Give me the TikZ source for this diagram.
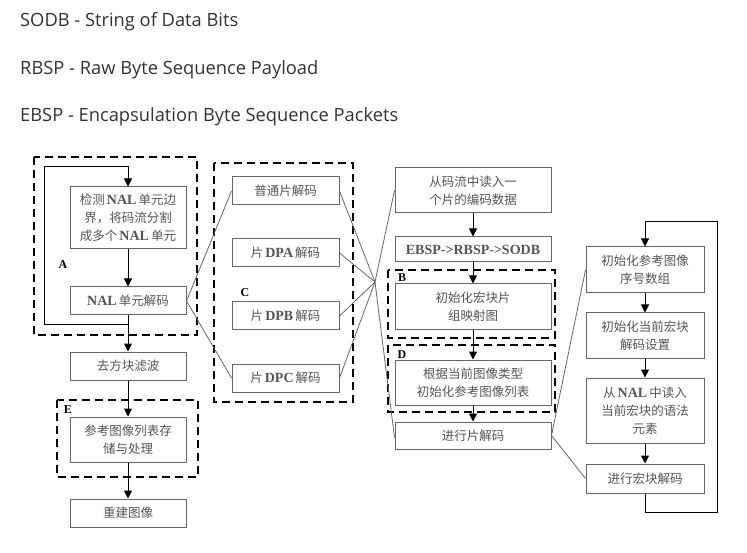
\documentclass[tikz,border=0pt]{standalone}
\usepackage{fontspec}
\setmainfont{Liberation Serif}
\newfontfamily\cjk{Noto Sans CJK SC}
\newfontfamily\headfont{Open Sans}
\usetikzlibrary{positioning,arrows.meta}
\definecolor{boxtext}{HTML}{555555}
\definecolor{boxline}{HTML}{666666}
\definecolor{headtext}{HTML}{333333}
\newcommand{\zh}[1]{{\cjk #1}}
\newcommand{\lt}[1]{{\bfseries\fontsize{14}{18}\selectfont #1}}

\begin{document}
\begin{tikzpicture}[
        x=1pt, y=-1pt,
        box/.style={draw=boxline, line width=1pt, text=boxtext, align=center, inner sep=0pt, font=\fontsize{12.5}{18}\selectfont},
        group/.style={draw=black, line width=2.5pt, dash pattern=on 8pt off 5pt},
        tag/.style={font=\bfseries\fontsize{12}{12}\selectfont, text=black, inner sep=0pt},
        head/.style={anchor=west, inner sep=0pt, text=headtext, font=\headfont\fontsize{18.3}{22}\selectfont},
        link/.style={draw=boxline, line width=0.8pt},
        flow/.style={-{Triangle[width=8pt,length=8pt]}, line width=1pt}
    ]
    \useasboundingbox (0,0) rectangle (747,553);

    % abbreviations
    \node[head] (h1) at (20,22)  {SODB - String of Data Bits};
    \node[head] (h2) at (20,70)  {RBSP - Raw Byte Sequence Payload};
    \node[head] (h3) at (20,117) {EBSP - Encapsulation Byte Sequence Packets};

    % left column
    \node[box, minimum width=116pt, minimum height=62pt] (a1) at (128,218) {\zh{检测}\,\lt{NAL}\,\zh{单元边}\\\zh{界，将码流分割}\\\zh{成多个}\,\lt{NAL}\,\zh{单元}};
    \node[box, minimum width=116pt, minimum height=28pt] (a2) at (128,301) {\lt{NAL}\,\zh{单元解码}};
    \node[box, minimum width=116pt, minimum height=28pt] (a3) at (128,366) {\zh{去方块滤波}};
    \node[box, minimum width=116pt, minimum height=45pt] (e1) at (128,439.5) {\zh{参考图像列表存}\\\zh{储与处理}};
    \node[box, minimum width=116pt, minimum height=28pt] (a4) at (128,513) {\zh{重建图像}};

    % slice types
    \node[box, minimum width=107pt, minimum height=28pt] (c1) at (285.5,191) {\zh{普通片解码}};
    \node[box, minimum width=107pt, minimum height=28pt] (c2) at (285.5,253) {\zh{片}\,\lt{DPA}\,\zh{解码}};
    \node[box, minimum width=107pt, minimum height=28pt] (c3) at (285.5,316) {\zh{片}\,\lt{DPB}\,\zh{解码}};
    \node[box, minimum width=107pt, minimum height=28pt] (c4) at (285.5,378) {\zh{片}\,\lt{DPC}\,\zh{解码}};

    % slice decoding
    \node[box, minimum width=156pt, minimum height=45pt] (r1) at (473,190.5) {\zh{从码流中读入一}\\\zh{个片的编码数据}};
    \node[box, minimum width=156pt, minimum height=25pt] (r2) at (473,249.5) {\lt{EBSP->RBSP->SODB}};
    \node[box, minimum width=156pt, minimum height=46pt] (r3) at (473,307) {\zh{初始化宏块片}\\\zh{组映射图}};
    \node[box, minimum width=156pt, minimum height=45pt] (r4) at (473,382.5) {\zh{根据当前图像类型}\\\zh{初始化参考图像列表}};
    \node[box, minimum width=156pt, minimum height=27pt] (r5) at (473,435.5) {\zh{进行片解码}};

    % macroblock decoding
    \node[box, minimum width=118pt, minimum height=46pt] (m1) at (645,270) {\zh{初始化参考图像}\\\zh{序号数组}};
    \node[box, minimum width=118pt, minimum height=45pt] (m2) at (645,335.5) {\zh{初始化当前宏块}\\\zh{解码设置}};
    \node[box, minimum width=118pt, minimum height=65pt] (m3) at (645,410.5) {\zh{从}\,\lt{NAL}\,\zh{中读入}\\\zh{当前宏块的语法}\\\zh{元素}};
    \node[box, minimum width=118pt, minimum height=29pt] (m4) at (645,478.5) {\zh{进行宏块解码}};

    % dashed groups
    \draw[group] (34,157) rectangle (197,335);
    \draw[group] (57,400) rectangle (198,477);
    \draw[group] (214,163) rectangle (353,402);
    \draw[group] (388,270) rectangle (555,338);
    \draw[group] (388,345) rectangle (555,412);
    \node[tag] (ta) at (63,265)  {A};
    \node[tag] (te) at (68,410)  {E};
    \node[tag] (tc) at (245,293) {C};
    \node[tag] (tb) at (402,278) {B};
    \node[tag] (td) at (402,355) {D};

    % flow arrows
    \draw[flow] (a1) -- (a2);
    \draw[flow] (a2) -- (a3);
    \draw[flow] (a3) -- (e1);
    \draw[flow] (e1) -- (a4);
    \draw[flow] (r1) -- (r2);
    \draw[flow] (r2) -- (r3);
    \draw[flow] (r3) -- (r4);
    \draw[flow] (r4) -- (r5);
    \draw[flow] (m1) -- (m2);
    \draw[flow] (m2) -- (m3);
    \draw[flow] (m3) -- (m4);

    % loops
    \coordinate (la) at (44,325);
    \coordinate (lb) at (44,167);
    \draw[flow] (a2.south |- la) -- (la) -- (lb) -- (a1.north |- lb) -- (a1.north);
    \coordinate (lc) at (717,512);
    \coordinate (ld) at (717,222);
    \draw[flow] (m4.south) -- (m4.south |- lc) -- (lc) -- (ld) -- (m1.north |- ld) -- (m1.north);

    % expansion lines
    \coordinate (hub) at (375,282);
    \draw[link] (a2.east) -- (c1.west);
    \draw[link] (a2.east) -- (c4.west);
    \foreach \c in {c1,c2,c3,c4}
        \draw[link] (\c.east) -- (hub);
    \draw[link] (hub) -- (r1.west);
    \draw[link] (hub) -- ([yshift=-2pt]r5.west);
    \draw[link] (r5.east) -- (m1.west);
    \draw[link] (r5.east) -- (m4.west);
\end{tikzpicture}
\end{document}
